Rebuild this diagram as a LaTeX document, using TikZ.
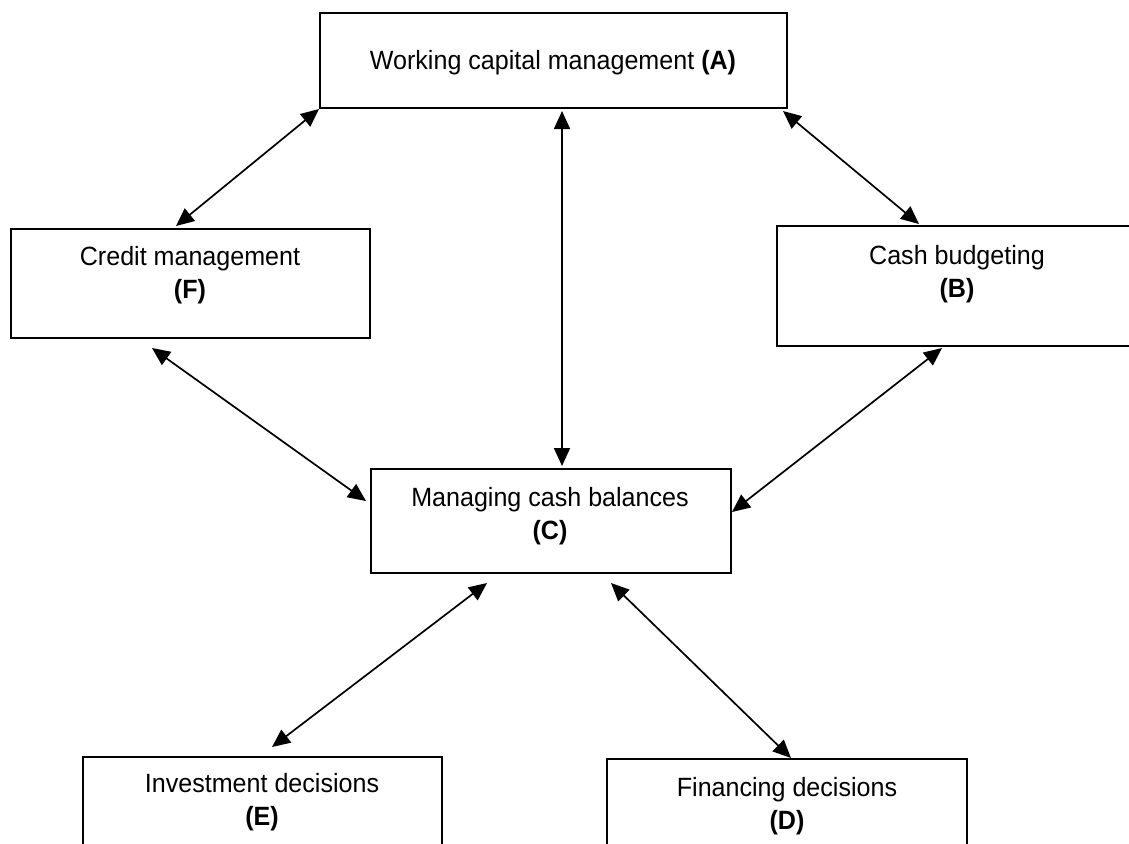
\documentclass[tikz,border=0pt]{standalone}
\usepackage{fontspec}
\setmainfont{Liberation Sans}[FakeStretch=0.95]
\usetikzlibrary{arrows.meta,calc}
\begin{document}
\begin{tikzpicture}[x=0.5pt,y=-0.5pt,
  box/.style={draw,line width=1pt,inner sep=0pt,rectangle},
  lbl/.style={align=center,font=\fontsize{13.2}{16.5}\selectfont,inner sep=0pt},
  link/.style={line width=0.85pt,{Triangle[length=9pt,width=8pt]}-{Triangle[length=9pt,width=8pt]}}]
\clip (0,0) rectangle (1129,843);
\fill[white] (0,0) rectangle (1129,843);
% boxes
\node[box,minimum width=233.5pt,minimum height=47.5pt] (A) at (553.5,60.5) {};
\node[box,minimum width=179.5pt,minimum height=54.5pt] (F) at (190.5,283.5) {};
\node[box,minimum width=180pt,minimum height=60pt] (B) at (957,286) {};
\node[box,minimum width=180pt,minimum height=52pt] (C) at (551,521) {};
\node[box,minimum width=179.5pt,minimum height=56.5pt] (E) at (262.5,813.5) {};
\node[box,minimum width=180pt,minimum height=55.5pt] (D) at (787,814.5) {};
% texts
\node[lbl] (At) at (553,63) {Working capital management \textbf{(A)}};
\node[lbl] (Ft) at (190,275) {Credit management\\\textbf{(F)}};
\node[lbl] (Bt) at (957,274.5) {Cash budgeting\\\textbf{(B)}};
\node[lbl] (Ct) at (550,516) {Managing cash balances\\\textbf{(C)}};
\node[lbl] (Et) at (262,802.5) {Investment decisions\\\textbf{(E)}};
\node[lbl] (Dt) at (787,806) {Financing decisions\\\textbf{(D)}};
% connector ends
\coordinate (a1) at (A.south west);
\coordinate (f1) at ($(F.north west)+(166,-2)$);
\coordinate (a2) at ($(A.south east)+(-5,2)$);
\coordinate (b1) at ($(B.north west)+(143,-1)$);
\coordinate (a3) at ($(A.south west)+(243,2)$);
\coordinate (c1) at ($(C.north west)+(192,-2)$);
\coordinate (f2) at ($(F.south west)+(142,9)$);
\coordinate (c2) at ($(C.north west)+(-4,33)$);
\coordinate (b2) at ($(B.south west)+(166,1)$);
\coordinate (c3) at ($(C.north east)+(0,44)$);
\coordinate (c4) at ($(C.south west)+(117,9)$);
\coordinate (e1) at ($(E.north west)+(190,-9)$);
\coordinate (c5) at ($(C.south west)+(241,9)$);
\coordinate (d1) at ($(D.north west)+(185,0)$);
% connectors
\draw[link] (a1) -- (f1);
\draw[link] (a2) -- (b1);
\draw[link] (a3) -- (c1);
\draw[link] (f2) -- (c2);
\draw[link] (b2) -- (c3);
\draw[link] (c4) -- (e1);
\draw[link] (c5) -- (d1);
\end{tikzpicture}
\end{document}
